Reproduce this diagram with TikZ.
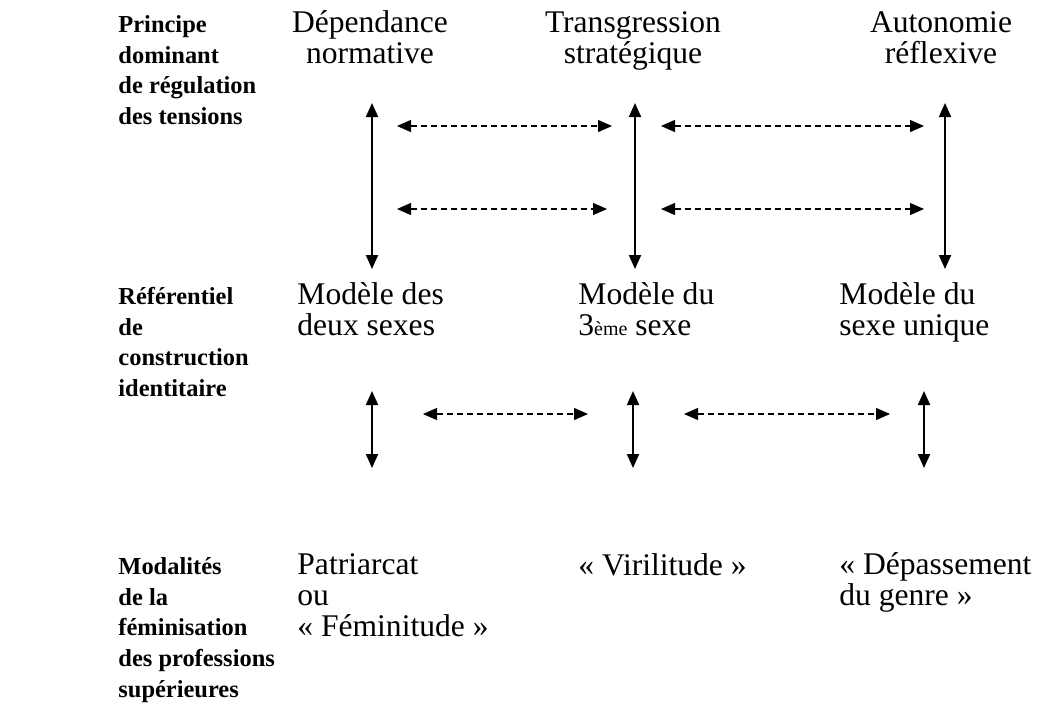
\documentclass[tikz,border=0pt]{standalone}
\usepackage{fontspec}
\setmainfont{Liberation Serif}
\usetikzlibrary{arrows.meta}

\tikzset{
  rowlabel/.style={anchor=base west, align=left, font=\fontsize{11}{13.8}\selectfont\bfseries, inner sep=0pt},
  colhead/.style={anchor=base, align=center, inner sep=0pt},
  cell/.style={anchor=base west, align=left, inner sep=0pt},
  vlink/.style={{Triangle[length=6.3pt,width=5.4pt]}-{Triangle[length=6.3pt,width=5.4pt]}, line width=0.9pt},
  hlink/.style={{Triangle[length=6.3pt,width=5.4pt]}-{Triangle[length=6.3pt,width=5.4pt]}, line width=0.5pt, dash pattern=on 2.7pt off 1.8pt},
}

\begin{document}
\begin{tikzpicture}[x=0.45pt, y=-0.45pt, font=\fontsize{14.2}{13.8}\selectfont]
        \useasboundingbox (0,0) rectangle (1060,702);

        % Lignes du tableau (ancre sur la derniere ligne).
        \node[rowlabel] (principe) at (118,124.5) {Principe\\dominant\\de régulation\\des tensions};
        \node[rowlabel] (referentiel) at (118,396.5) {Référentiel\\de\\construction\\identitaire};
        \node[rowlabel] (modalites) at (118,697) {Modalités\\de la\\féminisation\\des professions\\supérieures};

        % Principes de regulation.
        \node[colhead] (dependance) at (370,63.5) {Dépendance\\normative};
        \node[colhead] (transgression) at (633,63.5) {Transgression\\stratégique};
        \node[colhead] (autonomie) at (941,63.5) {Autonomie\\réflexive};

        % Modeles identitaires.
        \node[cell] (deuxsexes) at (297,335.5) {Modèle des\\deux sexes};
        \node[cell] (troisieme) at (578,335.5) {Modèle du\\3{\fontsize{9}{9}\selectfont ème} sexe};
        \node[cell] (unique) at (839,335.5) {Modèle du\\sexe unique};

        % Modalites de la feminisation.
        \node[cell] (patriarcat) at (297,636) {Patriarcat\\ou\\«~Féminitude~»};
        \node[cell] (virilitude) at (578,575) {«~Virilitude~»};
        \node[cell] (depassement) at (839,605.5) {«~Dépassement\\du genre~»};

        % Extremites des fleches.
        \coordinate (a1) at (372,103); \coordinate (a2) at (372,269);
        \coordinate (b1) at (635,103); \coordinate (b2) at (635,269);
        \coordinate (c1) at (945,103); \coordinate (c2) at (945,269);
        \coordinate (d1) at (372,391); \coordinate (d2) at (372,468);
        \coordinate (e1) at (633,391); \coordinate (e2) at (633,468);
        \coordinate (f1) at (924,391); \coordinate (f2) at (924,468);

        \coordinate (ab1) at (397,126); \coordinate (ab2) at (612,126);
        \coordinate (bc1) at (661,126); \coordinate (bc2) at (924,126);
        \coordinate (ab3) at (397,209); \coordinate (ab4) at (607,209);
        \coordinate (bc3) at (661,209); \coordinate (bc4) at (924,209);
        \coordinate (de1) at (423,414); \coordinate (de2) at (588,414);
        \coordinate (ef1) at (684,414); \coordinate (ef2) at (890,414);

        % Tensions verticales.
        \draw[vlink] (a1) -- (a2);
        \draw[vlink] (b1) -- (b2);
        \draw[vlink] (c1) -- (c2);
        \draw[vlink] (d1) -- (d2);
        \draw[vlink] (e1) -- (e2);
        \draw[vlink] (f1) -- (f2);

        % Passages horizontaux.
        \draw[hlink] (ab1) -- (ab2);
        \draw[hlink] (bc1) -- (bc2);
        \draw[hlink] (ab3) -- (ab4);
        \draw[hlink] (bc3) -- (bc4);
        \draw[hlink] (de1) -- (de2);
        \draw[hlink] (ef1) -- (ef2);
    \end{tikzpicture}
\end{document}
